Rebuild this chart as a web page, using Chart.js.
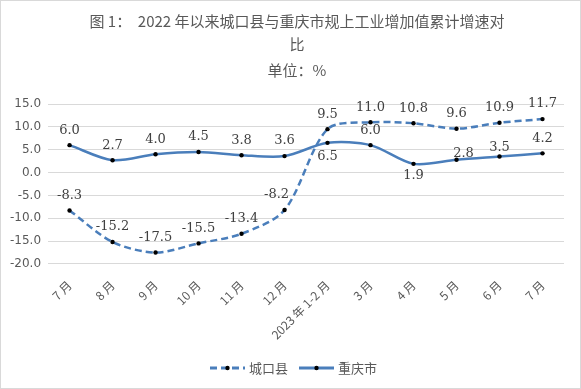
<!DOCTYPE html>
<html>
<head>
<meta charset="utf-8">
<script src="https://cdn.jsdelivr.net/npm/chart.js@4.4.1/dist/chart.umd.min.js"></script>
<style>
  html, body { margin: 0; padding: 0; background: #fff; }
  #wrap { width: 579px; height: 387px; border: 1px solid #d9d9d9; position: relative; }
</style>
</head>
<body>
<div id="wrap"><canvas id="chart" width="579" height="387"></canvas></div>
<script>
// categories and values
const months = ['7 月', '8 月', '9 月', '10 月', '11 月', '12 月', '2023 年 1-2 月', '3 月', '4 月', '5 月', '6 月', '7 月'];
const chengkou = [-8.3, -15.2, -17.5, -15.5, -13.4, -8.2, 9.5, 11.0, 10.8, 9.6, 10.9, 11.7];
const chongqing = [6.0, 2.7, 4.0, 4.5, 3.8, 3.6, 6.5, 6.0, 1.9, 2.8, 3.5, 4.2];
const yTicks = [-20, -15, -10, -5, 0, 5, 10, 15];
const titleLines = ['图 1：  2022 年以来城口县与重庆市规上工业增加值累计增速对', '比', '单位：%'];

const blue = '#4a7ebb';
const grey = '#595959';

// title is drawn by hand, the excel original sits a bit right of centre
const titleBlock = {
    id: 'titleBlock',
    afterDraw(chart) {
        const ctx = chart.ctx;
        ctx.save();
        ctx.font = '15px "Noto Sans CJK SC", sans-serif';
        ctx.fillStyle = grey;
        ctx.textAlign = 'center';
        ctx.textBaseline = 'middle';
        const ys = [20, 43, 69];
        titleLines.forEach((t, i) => ctx.fillText(t, 296, ys[i]));
        ctx.restore();
    }
};

// legend drawn by hand too: dashed / solid line with a black marker
const legendBlock = {
    id: 'legendBlock',
    afterDraw(chart) {
        const ctx = chart.ctx;
        const starts = [209, 298];
        const y = 367;
        ctx.save();
        chart.data.datasets.forEach((ds, i) => {
            const x = starts[i];
            ctx.strokeStyle = blue;
            ctx.lineWidth = 3;
            ctx.setLineDash(ds.borderDash || []);
            ctx.beginPath();
            ctx.moveTo(x, y);
            ctx.lineTo(x + 35, y);
            ctx.stroke();
            ctx.fillStyle = '#000';
            ctx.beginPath();
            ctx.arc(x + 17.5, y, 2.2, 0, Math.PI * 2);
            ctx.fill();
            ctx.fillStyle = grey;
            ctx.font = '13px "Noto Sans CJK SC", sans-serif';
            ctx.textBaseline = 'middle';
            ctx.fillText(ds.label, x + 39, y);
        });
        ctx.restore();
    }
};

// draws value labels next to each point (no datalabels plugin offline)
const valueLabels = {
    id: 'valueLabels',
    afterDatasetsDraw(chart) {
        const ctx = chart.ctx;
        ctx.save();
        ctx.font = '13px "DejaVu Serif", "Liberation Serif", serif';
        ctx.fillStyle = '#404040';
        ctx.textAlign = 'center';
        ctx.textBaseline = 'middle';
        chart.data.datasets.forEach((ds, di) => {
            const meta = chart.getDatasetMeta(di);
            meta.data.forEach((pt, i) => {
                const off = ds.labelOffset ? ds.labelOffset[i] : [0, -15];
                ctx.fillText(ds.data[i].toFixed(1), pt.x + off[0], pt.y + off[1]);
            });
        });
        ctx.restore();
    }
};

const above = [0, -15];
const below = [0, 14];

new Chart(document.getElementById('chart'), {
    type: 'line',
    data: {
        labels: months,
        datasets: [
            {
                label: '城口县',
                data: chengkou,
                borderColor: blue,
                backgroundColor: blue,
                borderWidth: 2.5,
                borderDash: [7, 4],
                tension: 0.3,
                pointRadius: 2.2,
                pointBackgroundColor: '#000',
                pointBorderColor: '#000',
                pointBorderWidth: 0,
                labelOffset: [above, above, above, above, above, [-8, -15], above, above, above, above, above, above]
            },
            {
                label: '重庆市',
                data: chongqing,
                borderColor: blue,
                backgroundColor: blue,
                borderWidth: 2.5,
                tension: 0.3,
                pointRadius: 2.2,
                pointBackgroundColor: '#000',
                pointBorderColor: '#000',
                pointBorderWidth: 0,
                labelOffset: [above, above, above, above, above, above, below, above, [0, 12], [7, -6], [0, -9], above]
            }
        ]
    },
    options: {
        responsive: false,
        animation: false,
        layout: { padding: { left: 2, right: 16, top: 103, bottom: 40 } },
        plugins: {
            title: { display: false },
            legend: { display: false },
            tooltip: { enabled: false }
        },
        scales: {
            x: {
                offset: true,
                grid: { display: false },
                border: { display: false },
                ticks: {
                    color: grey,
                    autoSkip: false,
                    minRotation: 45,
                    maxRotation: 45,
                    padding: 6,
                    font: { size: 12, family: '"Noto Sans CJK SC", sans-serif' }
                }
            },
            y: {
                min: -20,
                max: 15,
                afterBuildTicks: s => { s.ticks = yTicks.map(v => ({ value: v })); },
                grid: { color: '#d9d9d9', drawTicks: false },
                border: { display: false },
                ticks: {
                    color: grey,
                    padding: 7,
                    font: { size: 12, family: '"DejaVu Sans", sans-serif' },
                    callback: v => v.toFixed(1)
                }
            }
        }
    },
    plugins: [titleBlock, valueLabels, legendBlock]
});
</script>
</body>
</html>
